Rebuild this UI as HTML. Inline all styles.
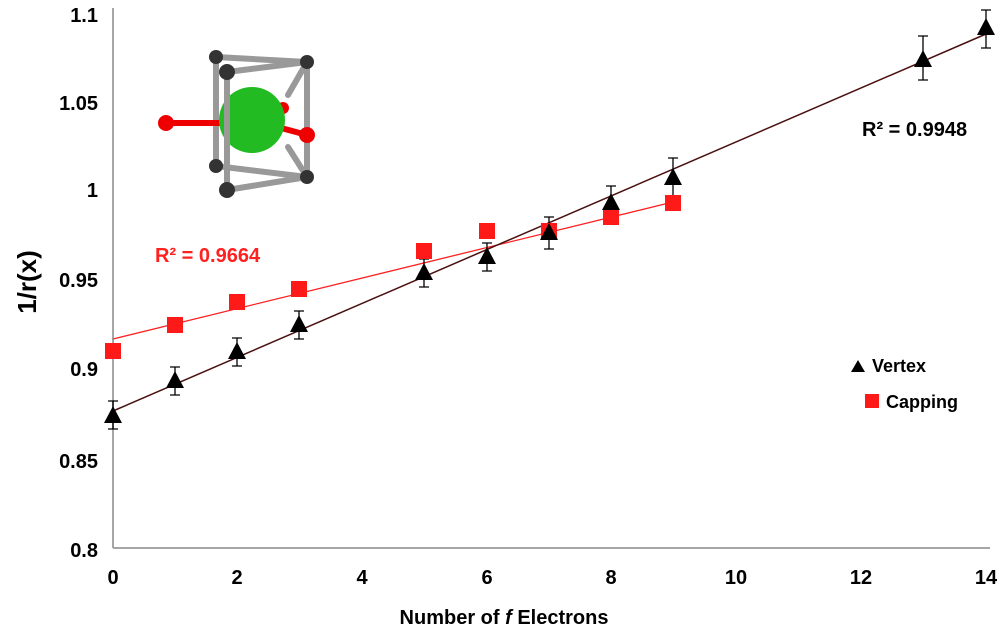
<!DOCTYPE html>
<html><head><style>body{margin:0;background:#fff}svg{display:block}text{font-family:"Liberation Sans",sans-serif;font-weight:bold}</style></head><body>
<svg width="1000" height="630" viewBox="0 0 1000 630">
<line x1="113" y1="8" x2="113" y2="548" stroke="#a6a6a6" stroke-width="2"/>
<line x1="113" y1="548" x2="990" y2="548" stroke="#a6a6a6" stroke-width="2"/>
<g font-size="20" text-anchor="end" fill="#000">
<text x="98" y="557">0.8</text><text x="98" y="468">0.85</text><text x="98" y="376">0.9</text><text x="98" y="287">0.95</text><text x="98" y="197">1</text><text x="98" y="110">1.05</text><text x="98" y="22">1.1</text></g>
<g font-size="20" text-anchor="middle">
<text x="113" y="584">0</text><text x="237" y="584">2</text><text x="362" y="584">4</text><text x="487" y="584">6</text><text x="611" y="584">8</text><text x="736" y="584">10</text><text x="861" y="584">12</text><text x="986" y="584">14</text>
<text x="504" y="624">Number of <tspan font-style="italic">f</tspan> Electrons</text></g>
<text transform="translate(36,282) rotate(-90)" font-size="26" text-anchor="middle">1/r(x)</text>
<line x1="113" y1="339" x2="673" y2="202" stroke="#ff2020" stroke-width="1.3"/>
<line x1="113" y1="411" x2="986" y2="34" stroke="#4a1010" stroke-width="1.5"/>
<g stroke="#000" stroke-width="1.3" fill="none">
<path d="M113 401V429M108 401h10M108 429h10M175 367V395M170 367h10M170 395h10M237 338V366M232 338h10M232 366h10M299 311V339M294 311h10M294 339h10M424 259V287M419 259h10M419 287h10M487 243V271M482 243h10M482 271h10M549 217V249M544 217h10M544 249h10M611 186V220M606 186h10M606 220h10M673 158V198M668 158h10M668 198h10M923 36V80M918 36h10M918 80h10M986 10V48M981 10h10M981 48h10"/></g>
<g fill="#ff1a1a">
<rect x="105" y="343" width="16" height="16"/><rect x="167" y="317" width="16" height="16"/><rect x="229" y="294" width="16" height="16"/><rect x="291" y="281" width="16" height="16"/><rect x="416" y="243" width="16" height="16"/><rect x="479" y="223" width="16" height="16"/><rect x="541" y="223" width="16" height="16"/><rect x="603" y="209" width="16" height="16"/><rect x="665" y="195" width="16" height="16"/></g>
<g fill="#000">
<path d="M113 406l9 17h-18z M175 371l9 17h-18z M237 342l9 17h-18z M299 315l9 17h-18z M424 263l9 17h-18z M487 247l9 17h-18z M549 223l9 17h-18z M611 193l9 17h-18z M673 168l9 17h-18z M923 50l9 17h-18z M986 18l9 17h-18z"/></g>
<text x="862" y="136" font-size="20">R² = 0.9948</text>
<text x="155" y="262" font-size="20" fill="#ff2020">R² = 0.9664</text>
<path d="M858 360l7 12h-14z" fill="#000"/><text x="872" y="372" font-size="18">Vertex</text>
<rect x="865" y="394" width="14" height="14" fill="#ff1a1a"/><text x="886" y="408" font-size="18">Capping</text>
<g stroke="#999" stroke-width="6" stroke-linecap="round">
<line x1="216" y1="57" x2="307" y2="62"/><line x1="227" y1="72" x2="307" y2="62"/><line x1="216" y1="57" x2="216" y2="166"/><line x1="227" y1="72" x2="227" y2="190"/><line x1="307" y1="62" x2="307" y2="177"/><line x1="216" y1="166" x2="307" y2="177"/><line x1="227" y1="190" x2="307" y2="177"/><line x1="288" y1="95" x2="307" y2="62"/><line x1="288" y1="147" x2="307" y2="177"/></g>
<line x1="166" y1="123" x2="230" y2="123" stroke="#e00" stroke-width="6"/><line x1="270" y1="125" x2="307" y2="135" stroke="#e00" stroke-width="6"/>
<circle cx="283" cy="108" r="6" fill="#e00"/>
<circle cx="252" cy="120" r="33" fill="#22bb22"/>
<line x1="227" y1="72" x2="227" y2="190" stroke="#999" stroke-width="6"/>
<g fill="#333"><circle cx="216" cy="57" r="7"/><circle cx="227" cy="72" r="8"/><circle cx="307" cy="62" r="7"/><circle cx="216" cy="166" r="7"/><circle cx="227" cy="190" r="8"/><circle cx="307" cy="177" r="7"/></g>
<circle cx="166" cy="123" r="8" fill="#e00"/><circle cx="307" cy="135" r="8" fill="#e00"/>
</svg></body></html>
